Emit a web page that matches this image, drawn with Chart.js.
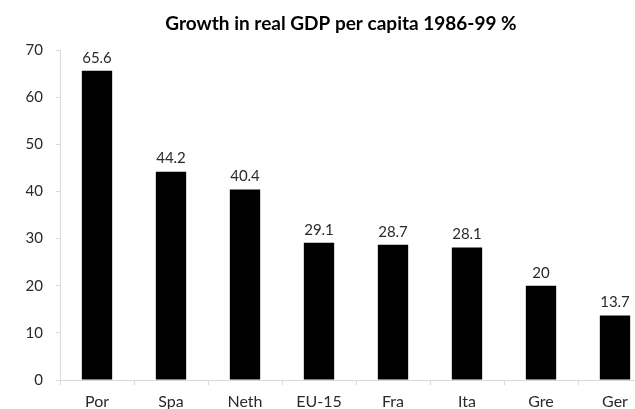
<!DOCTYPE html>
<html>
<head>
<meta charset="utf-8">
<script src="https://cdn.jsdelivr.net/npm/chart.js@4"></script>
<style>
  body { margin: 0; overflow: hidden; background: #fff; }
  #wrap { width: 635px; height: 409px; overflow: hidden; }
</style>
</head>
<body>
<div id="wrap"><canvas id="myChart" width="665" height="409"></canvas></div>
<script>
// ----- DATA -----
const categories = ['Por', 'Spa', 'Neth', 'EU-15', 'Fra', 'Ita', 'Gre', 'Ger'];
const growthValues = [65.6, 44.2, 40.4, 29.1, 28.7, 28.1, 20, 13.7];
const yTicks = [0, 10, 20, 30, 40, 50, 60, 70];
const chartTitle = 'Growth in real GDP per capita 1986-99 %';

const fontFamily = 'Lato, "Open Sans", sans-serif';
const textColor = '#2a2a2a';
const axisColor = '#d9d9d9';

// Title drawn over the plot (the original is centred on an uncropped chart)
const titlePlugin = {
    id: 'titleText',
    afterDraw(chart) {
        const ctx = chart.ctx;
        ctx.save();
        ctx.font = 'bold 19px ' + fontFamily;
        ctx.fillStyle = '#000';
        ctx.textAlign = 'center';
        ctx.textBaseline = 'middle';
        ctx.fillText(chartTitle, 341, 24);
        ctx.restore();
    }
};

// Value labels above each bar
const valueLabels = {
    id: 'valueLabels',
    afterDatasetsDraw(chart) {
        const ctx = chart.ctx;
        const meta = chart.getDatasetMeta(0);
        ctx.save();
        ctx.font = '15px ' + fontFamily;
        ctx.fillStyle = textColor;
        ctx.textAlign = 'center';
        ctx.textBaseline = 'middle';
        meta.data.forEach((bar, i) => {
            ctx.fillText(String(growthValues[i]), bar.x, bar.y - 13);
        });
        ctx.restore();
    }
};

const ctx = document.getElementById('myChart').getContext('2d');

new Chart(ctx, {
    type: 'bar',
    data: {
        labels: categories,
        datasets: [{
            data: growthValues,
            backgroundColor: '#000',
            borderWidth: 0,
            barPercentage: 0.41,
            categoryPercentage: 1
        }]
    },
    options: {
        responsive: false,
        animation: false,
        layout: { padding: { top: 50, right: 13, left: 0, bottom: 0 } },
        plugins: {
            legend: { display: false },
            tooltip: { enabled: false }
        },
        scales: {
            x: {
                grid: { drawOnChartArea: false, drawTicks: true, tickLength: 5, color: axisColor },
                border: { color: axisColor, width: 1 },
                ticks: { color: textColor, font: { family: fontFamily, size: 16 }, padding: 7, maxRotation: 0 },
                afterFit(scale) { scale.height = 29; }
            },
            y: {
                min: 0,
                max: 70,
                afterBuildTicks(scale) { scale.ticks = yTicks.map(v => ({ value: v })); },
                grid: { drawOnChartArea: false, drawTicks: true, tickLength: 4, color: axisColor },
                border: { color: axisColor, width: 1 },
                ticks: { color: textColor, font: { family: fontFamily, size: 15 }, padding: 13 },
                afterFit(scale) { scale.width = 60; }
            }
        }
    },
    plugins: [titlePlugin, valueLabels]
});
</script>
</body>
</html>
